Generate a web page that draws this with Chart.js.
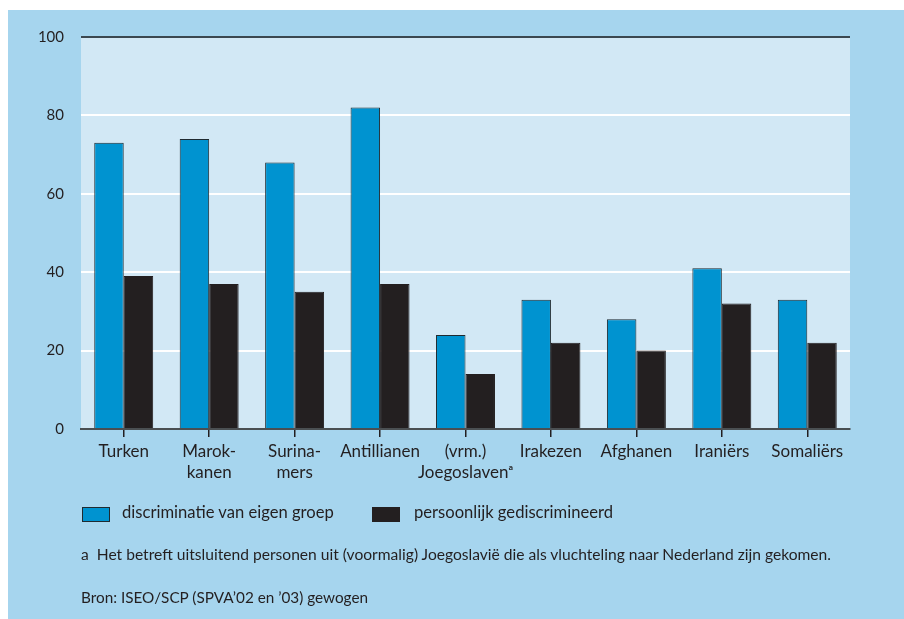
<!DOCTYPE html>
<html>
<head>
<meta charset="utf-8">
<script src="https://cdn.jsdelivr.net/npm/chart.js@4.4.1/dist/chart.umd.min.js"></script>
<style>
  html, body { margin:0; padding:0; background:#ffffff; width:904px; height:619px; overflow:hidden; }
  #panel { position:absolute; left:8px; top:10px; width:896px; height:609px; background:#a6d5ee; }
  #wrap { position:absolute; left:0; top:0; width:904px; height:619px; }
  .txt { position:absolute; font-family: Lato, "Open Sans", sans-serif; font-size:16px; line-height:16px; color:#231f20; white-space:nowrap; }
  .box { position:absolute; width:26px; height:13px; }
</style>
</head>
<body>
<div id="panel"></div>
<div id="wrap"><canvas id="c" width="904" height="619"></canvas></div>
<div class="box" style="left:82px; top:507px; background:#0093d0; border:1px solid #1f2a30;"></div>
<div class="txt" style="left:122px; top:504px; font-size:16.6px;">discriminatie van eigen groep</div>
<div class="box" style="left:372px; top:507px; width:28px; height:15px; background:#231f20;"></div>
<div class="txt" style="left:414px; top:504px; font-size:16.6px;">persoonlijk gediscrimineerd</div>
<div class="txt" style="left:81px; top:546px; font-size:15.6px;">a&nbsp;&nbsp;Het betreft uitsluitend personen uit (voormalig) Joegoslavië die als vluchteling naar Nederland zijn gekomen.</div>
<div class="txt" style="left:81px; top:589px; font-size:15.3px;">Bron: ISEO/SCP (SPVA’02 en ’03) gewogen</div>
<script>
const categories = ['Turken', ['Marok-', 'kanen'], ['Surina-', 'mers'], 'Antillianen', ['(vrm.)', 'Joegoslavenᵃ'], 'Irakezen', 'Afghanen', 'Iraniërs', 'Somaliërs'];
const discriminatieEigenGroep = [73, 74, 68, 82, 24, 33, 28, 41, 33];
const persoonlijkGediscrimineerd = [39, 37, 35, 37, 14, 22, 20, 32, 22];
const yTickValues = [0, 20, 40, 60, 80, 100];
const seriesNames = ['discriminatie van eigen groep', 'persoonlijk gediscrimineerd'];

const plotBg = {
  id: 'plotBg',
  beforeDraw(chart) {
    const a = chart.chartArea, ctx = chart.ctx;
    ctx.save();
    ctx.fillStyle = '#d2e8f5';
    ctx.fillRect(a.left, a.top, a.right - a.left, a.bottom - a.top);
    ctx.restore();
  }
};

new Chart(document.getElementById('c'), {
  type: 'bar',
  data: {
    labels: categories,
    datasets: [
      { label: seriesNames[0], data: discriminatieEigenGroep, backgroundColor: '#0093d0', borderColor: '#1f2a30', borderWidth: 1, barPercentage: 1, categoryPercentage: 0.69 },
      { label: seriesNames[1], data: persoonlijkGediscrimineerd, backgroundColor: '#231f20', borderColor: '#231f20', borderWidth: 1, barPercentage: 1, categoryPercentage: 0.69 }
    ]
  },
  options: {
    responsive: false,
    animation: false,
    layout: { padding: { left: 0, right: 54, top: 37, bottom: 130 } },
    plugins: { legend: { display: false }, tooltip: { enabled: false } },
    scales: {
      x: {
        grid: { offset: false, drawOnChartArea: false, drawTicks: true, tickLength: 8, color: '#231f20', lineWidth: 1.5 },
        border: { display: true, color: '#4a4f52', width: 2 },
        ticks: { color: '#231f20', font: { family: 'Lato', size: 17, lineHeight: 1.25 }, padding: 4, maxRotation: 0, autoSkip: false },
        afterFit(s) { s.height = 60; }
      },
      y: {
        min: 0, max: 100,
        afterBuildTicks(s) { s.ticks = yTickValues.map(v => ({ value: v })); },
        grid: {
          drawTicks: false,
          color: c => c.tick.value === 100 ? '#3b4850' : (c.tick.value === 0 ? '#4a4f52' : '#ffffff'),
          lineWidth: 2
        },
        border: { display: false },
        ticks: { color: '#231f20', font: { family: 'Lato', size: 15 }, padding: 17 },
        afterFit(s) { s.width = 81; }
      }
    }
  },
  plugins: [plotBg]
});
</script>
</body>
</html>
